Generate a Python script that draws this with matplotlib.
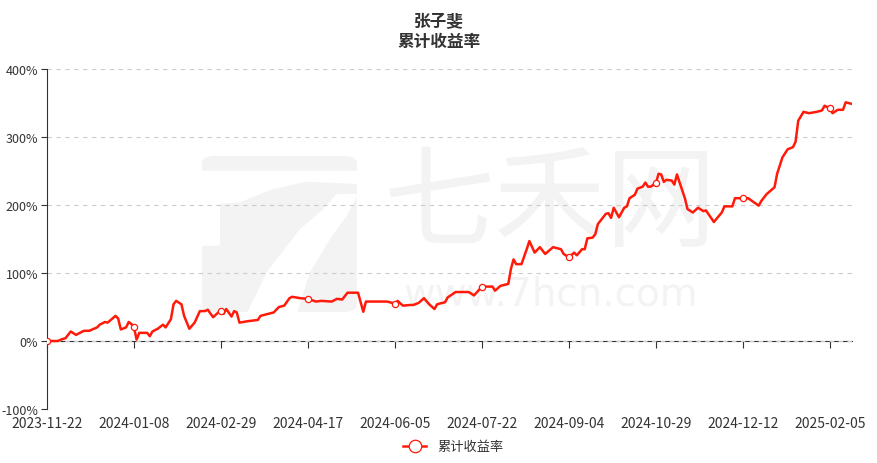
import numpy as np
import matplotlib
matplotlib.use('Agg')
import matplotlib.pyplot as plt
from matplotlib.ticker import FuncFormatter
from matplotlib.patches import FancyBboxPatch, Polygon

plt.rcParams['font.family'] = ['Noto Sans CJK SC', 'DejaVu Sans']

# 交易日序号 与 累计收益率(%)
day_idx = [0, 4, 6, 7, 9, 11, 14, 16, 19, 20, 22, 23, 26, 27, 28, 30, 31, 32, 33,
           34, 35, 38, 39, 40, 42, 44, 45, 47, 48, 49, 51, 52, 54, 56, 58, 60, 61,
           63, 65, 66, 67, 68, 70, 71, 72, 73, 76, 78, 80, 81, 86, 88, 90, 92, 93,
           96, 99, 102, 104, 108, 110, 112, 114, 118, 119, 120, 121, 129, 132, 133,
           135, 138, 139, 141, 143, 145, 147, 148, 151, 152, 155, 160, 162, 165,
           169, 170, 172, 175, 176, 177, 178, 180, 182, 183, 185, 187, 189, 192,
           194, 195, 196, 198, 200, 201, 203, 204, 205, 207, 208, 209, 212, 213,
           214, 215, 217, 219, 220, 221, 223, 224, 226, 227, 228, 229, 231, 232,
           233, 234, 235, 237, 238, 239, 240, 242, 243, 245, 247, 249, 250, 253,
           256, 257, 260, 261, 264, 266, 270, 271, 273, 276, 277, 279, 281, 283,
           284, 285, 287, 289, 292, 294, 295, 297, 298, 300, 302, 303, 305]
cum_ret = [0, 0, 3, 4, 14, 9, 15, 15, 20, 24, 28, 27, 37, 33, 17, 20, 28, 25, 20,
           2, 12, 12, 7, 14, 18, 24, 20, 32, 54, 59, 54, 37, 18, 27, 44, 44, 46,
           35, 42, 44, 40, 47, 36, 44, 42, 27, 29, 30, 31, 37, 42, 50, 52, 63, 65,
           63, 62, 58, 59, 58, 62, 61, 71, 71, 57, 43, 58, 58, 55, 59,
           52, 53, 53, 56, 63, 54, 47, 54, 57, 64, 72, 72, 67, 80,
           80, 74, 81, 84, 106, 120, 113, 113, 135, 147, 130, 138, 128, 138,
           136, 135, 128, 123, 130, 126, 135, 135, 151, 152, 157, 172, 187, 188,
           181, 196, 182, 196, 198, 210, 215, 224, 227, 233, 227, 227, 232, 246,
           245, 234, 237, 236, 230, 245, 233, 210, 194, 189, 196, 191, 192, 175,
           189, 198, 198, 210, 210, 210, 199, 206, 216, 226, 246, 270, 282, 285,
           293, 324, 337, 335, 337, 339, 346, 342, 335, 340, 340, 351, 349]

tick_labels = ['2023-11-22', '2024-01-08', '2024-02-29', '2024-04-17', '2024-06-05',
               '2024-07-22', '2024-09-04', '2024-10-29', '2024-12-12', '2025-02-05']
tick_step = 33

W, H = 878, 464
fig = plt.figure(figsize=(W / 100, H / 100), dpi=100)
ax = fig.add_axes([47 / W, 54 / H, 805 / W, 340 / H])


def px(pts):
    # 参考图像素(左上为原点) -> figure 坐标
    return [((190 + a / 3) / W, 1 - (140 + b / 3) / H) for a, b in pts]


# 水印 logo
wm = '#f3f3f3'
ax.add_patch(FancyBboxPatch((202 / W, 1 - 313 / H), 155 / W, 156 / H,
                            boxstyle='round,pad=0,rounding_size=0.015',
                            transform=fig.transFigure, fc=wm, ec='none',
                            clip_on=False, zorder=0.1))
ax.add_patch(Polygon(px([(30, 95), (505, 95), (505, 135), (350, 128), (250, 150),
                         (150, 190), (90, 195), (90, 320), (30, 320)]),
                     closed=True, transform=fig.transFigure, fc='white', ec='none',
                     clip_on=False, zorder=0.2))
ax.add_patch(Polygon(px([(440, 165), (505, 165), (470, 230), (420, 300), (360, 400),
                         (320, 525), (170, 525), (230, 400), (330, 270), (400, 210)]),
                     closed=True, transform=fig.transFigure, fc='white', ec='none',
                     clip_on=False, zorder=0.2))
ax.text(0.625, 0.6, '七禾网', transform=ax.transAxes, fontsize=80, color=wm,
        ha='center', va='center', zorder=0.1)
ax.text(0.625, 0.34, 'www.7hcn.com', transform=ax.transAxes, fontsize=28, color=wm,
        ha='center', va='center', zorder=0.1, family=['DejaVu Sans'])

x = np.array(day_idx)
y = np.array(cum_ret)
tick_pos = np.arange(len(tick_labels)) * tick_step
mark_at = [i for i, d in enumerate(day_idx) if d in tick_pos]

red = '#ff1a0a'
ax.plot(x, y, color=red, lw=1.8, zorder=3, label='累计收益率',
        marker='o', markevery=mark_at, markersize=4.5,
        markerfacecolor='white', markeredgecolor=red, markeredgewidth=0.9)

ax.set_xlim(0, 305.4)
ax.set_ylim(-100, 400)
ax.set_yticks([-100, 0, 100, 200, 300, 400])
ax.yaxis.set_major_formatter(FuncFormatter(lambda v, p: f'{int(v)}%'))
ax.grid(axis='y', color='#cccccc', linestyle=(0, (4, 4)), lw=0.8)
ax.set_axisbelow(True)

for s in ['top', 'right', 'bottom']:
    ax.spines[s].set_visible(False)
ax.spines['left'].set_color('#333333')
ax.tick_params(axis='y', colors='#333333', labelsize=9, length=4, width=0.8, pad=2.5)

ax.set_xticks(tick_pos)
ax.set_xticklabels(tick_labels)
ax.tick_params(axis='x', colors='#333333', labelsize=10, length=0, pad=5)

# 零轴线带刻度
sec = ax.secondary_xaxis(0.2)
sec.set_xticks(tick_pos)
sec.set_xticklabels([])
sec.spines['bottom'].set_color('#333333')
sec.tick_params(axis='x', colors='#333333', length=5, width=0.8, direction='out')

fig.text(0.5, 1 - 22 / H, '张子斐', ha='center', va='center', fontsize=12,
         fontweight='bold', color='#333333')
fig.text(0.5, 1 - 42 / H, '累计收益率', ha='center', va='center', fontsize=12,
         fontweight='bold', color='#333333')

ax.legend(loc='center', bbox_to_anchor=(453 / W, 1 - 448 / H),
          bbox_transform=fig.transFigure, frameon=False, fontsize=9.5,
          handlelength=1.8, markerscale=2, labelcolor='#333333')

fig.savefig('out.png', dpi=100)
